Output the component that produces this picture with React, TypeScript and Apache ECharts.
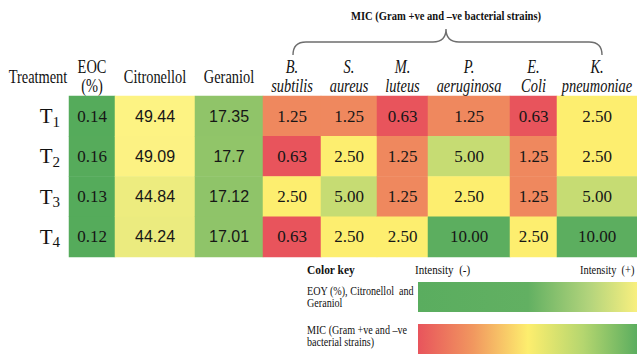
import React, { useEffect, useRef } from "react";
import * as echarts from "echarts";

// ---------- data ----------
const treatments = ["T1", "T2", "T3", "T4"];
const treatmentSubscripts = ["1", "2", "3", "4"];

const eocValues = [0.14, 0.16, 0.13, 0.12];
const citronellolValues = [49.44, 49.09, 44.84, 44.24];
const geraniolValues = [17.35, 17.7, 17.12, 17.01];

const bSubtilis = [1.25, 0.63, 2.5, 0.63];
const sAureus = [1.25, 2.5, 5.0, 2.5];
const mLuteus = [0.63, 1.25, 1.25, 2.5];
const pAeruginosa = [1.25, 5.0, 2.5, 10.0];
const eColi = [0.63, 1.25, 1.25, 2.5];
const kPneumoniae = [2.5, 2.5, 5.0, 10.0];

const columnHeaders = [
  ["EOC", "(%)"],
  ["Citronellol"],
  ["Geraniol"],
  ["B.", "subtilis"],
  ["S.", "aureus"],
  ["M.", "luteus"],
  ["P.", "aeruginosa"],
  ["E.", "Coli"],
  ["K.", "pneumoniae"],
];
const columnValues = [
  eocValues,
  citronellolValues,
  geraniolValues,
  bSubtilis,
  sAureus,
  mLuteus,
  pAeruginosa,
  eColi,
  kPneumoniae,
];
// 0 = composition group, 1 = MIC group
const columnGroup = [0, 0, 0, 1, 1, 1, 1, 1, 1];

const micTitle = "MIC (Gram +ve and \u2013ve bacterial strains)";

// ---------- layout / style ----------
const colBounds = [69, 115, 195, 263, 321, 377, 428, 510, 557, 637];
const serifCols = [true, false, false, true, true, true, true, true, true];
const italicHeader = [false, false, false, true, true, true, true, true, true];
const TABLE_TOP = 96;
const TABLE_H = 161;
const SERIF = "'Liberation Serif', 'Times New Roman', serif";
const SANS = "'Liberation Sans', Arial, sans-serif";

const braceD =
  "M293,55 Q293,42 306,42 L433,42 Q446,42 446,29 Q446,42 459,42 L589,42 Q602,42 602,55";
echarts.graphic.registerShape("brace", echarts.graphic.extendPath(braceD, {}));

function headerTexts(): any[] {
  const out: any[] = [];
  columnHeaders.forEach((lines, i) => {
    const cx = (colBounds[i] + colBounds[i + 1]) / 2;
    const ys = lines.length === 2 ? [67, 86] : [77];
    lines.forEach((t, j) => {
      out.push({
        type: "text",
        x: cx,
        y: ys[j],
        scaleX: 0.8,
        silent: true,
        style: {
          text: t,
          fontFamily: SERIF,
          fontSize: 18,
          fontStyle: italicHeader[i] ? "italic" : "normal",
          fill: "#111",
          align: "center",
          verticalAlign: "middle",
        },
      });
    });
  });
  return out;
}

function textEl(text: string, x: number, y: number, size: number, sx: number, bold = false, align = "left") {
  return {
    type: "text",
    x,
    y,
    scaleX: sx,
    silent: true,
    style: {
      text,
      fontFamily: SERIF,
      fontSize: size,
      fontWeight: bold ? "bold" : "normal",
      fill: "#111",
      align,
      verticalAlign: "middle",
    },
  };
}

export default function App() {
  const ref = useRef<HTMLDivElement>(null);

  useEffect(() => {
    if (!ref.current) return;
    const chart = echarts.init(ref.current, undefined, { renderer: "svg" });

    const grid = columnValues.map((_, i) => ({
      left: colBounds[i],
      width: colBounds[i + 1] - colBounds[i],
      top: TABLE_TOP,
      height: TABLE_H,
    }));
    const xAxis = columnValues.map((_, i) => ({
      type: "category",
      gridIndex: i,
      data: [columnHeaders[i].join(" ")],
      show: false,
    }));
    const yAxis = columnValues.map((_, i) => ({
      type: "category",
      gridIndex: i,
      data: treatments,
      inverse: true,
      show: i === 0,
      axisLine: { show: false },
      axisTick: { show: false },
      splitLine: { show: false },
      axisLabel: {
        show: i === 0,
        margin: 9,
        formatter: (_v: string, idx: number) => `{t|T}{s|${treatmentSubscripts[idx]}}`,
        rich: {
          t: { fontFamily: SERIF, fontSize: 21, lineHeight: 26, color: "#111" },
          s: { fontFamily: SERIF, fontSize: 15, lineHeight: 14, color: "#111", verticalAlign: "bottom" },
        },
      },
    }));
    const series = columnValues.map((vals, i) => ({
      type: "heatmap",
      xAxisIndex: i,
      yAxisIndex: i,
      data: vals.map((v, r) => [0, r, v]),
      itemStyle: { borderWidth: 0 },
      emphasis: { disabled: true },
      label: {
        show: true,
        color: "#161616",
        fontFamily: serifCols[i] ? SERIF : SANS,
        fontSize: serifCols[i] ? 17 : 16,
        formatter: (p: any) =>
          columnGroup[i] === 1 ? Number(p.value[2]).toFixed(2) : String(p.value[2]),
      },
    }));

    const compIdx = columnGroup.map((g, i) => (g === 0 ? i : -1)).filter((i) => i >= 0);
    const micIdx = columnGroup.map((g, i) => (g === 1 ? i : -1)).filter((i) => i >= 0);

    chart.setOption({
      animation: false,
      grid,
      xAxis,
      yAxis,
      visualMap: [
        {
          type: "continuous",
          show: false,
          seriesIndex: compIdx,
          dimension: 2,
          min: 0,
          max: 49.44,
          inRange: { color: ["#55ab5b", "#fdf383"] },
        },
        {
          type: "piecewise",
          show: false,
          seriesIndex: micIdx,
          dimension: 2,
          pieces: [
            { lt: 1, color: "#e8545c" },
            { gte: 1, lt: 2, color: "#ef885e" },
            { gte: 2, lt: 4, color: "#fdee6f" },
            { gte: 4, lt: 8, color: "#c6dc73" },
            { gte: 8, color: "#5cae5f" },
          ],
        },
      ],
      series,
      graphic: [
        textEl("Treatment", 38, 77, 18, 0.8, false, "center"),
        ...headerTexts(),
        textEl(micTitle, 446, 16, 12, 0.88, true, "center"),
        {
          type: "brace",
          x: 0,
          y: 0,
          silent: true,
          style: { stroke: "#6e6e6e", fill: "none", lineWidth: 1.4 },
        },
        textEl("Color key", 307, 270, 13, 0.88, true),
        textEl("Intensity  (-)", 415, 270, 13, 0.85),
        textEl("Intensity  (+)", 580, 270, 13, 0.8),
        textEl("EOY (%), Citronellol  and", 307, 291, 11.5, 0.88),
        textEl("Geraniol", 307, 303, 11.5, 0.88),
        textEl("MIC (Gram +ve and \u2013ve", 307, 330, 11.5, 0.88),
        textEl("bacterial strains)", 307, 342, 11.5, 0.88),
        {
          type: "rect",
          silent: true,
          shape: { x: 418, y: 282, width: 220, height: 30 },
          style: {
            fill: {
              type: "linear",
              x: 0,
              y: 0,
              x2: 1,
              y2: 0,
              colorStops: [
                { offset: 0, color: "#5aad5f" },
                { offset: 0.5, color: "#62b062" },
                { offset: 0.78, color: "#b3d47c" },
                { offset: 1, color: "#faf07f" },
              ],
            },
          },
        },
        {
          type: "rect",
          silent: true,
          shape: { x: 418, y: 324, width: 220, height: 31 },
          style: {
            fill: {
              type: "linear",
              x: 0,
              y: 0,
              x2: 1,
              y2: 0,
              colorStops: [
                { offset: 0, color: "#e8545c" },
                { offset: 0.25, color: "#f1975f" },
                { offset: 0.5, color: "#fdee6e" },
                { offset: 0.75, color: "#b5d66f" },
                { offset: 1, color: "#5aad5f" },
              ],
            },
          },
        },
      ],
    });

    return () => chart.dispose();
  }, []);

  return (
    <div
      ref={ref}
      style={{ position: "fixed", left: 0, top: 0, width: 637, height: 354, background: "#fff" }}
    />
  );
}
